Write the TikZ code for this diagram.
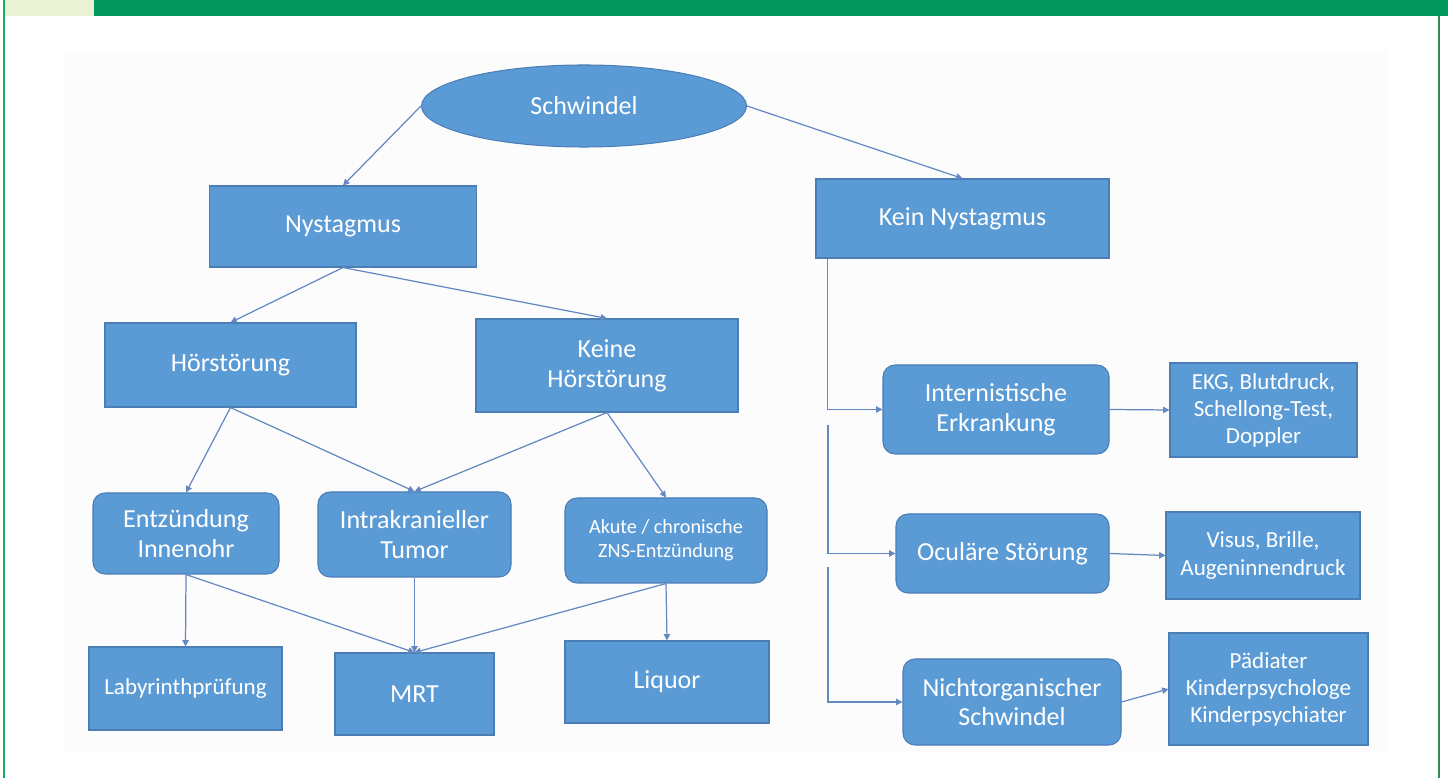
\documentclass[tikz,border=0pt]{standalone}
\usepackage{fontspec}
\setmainfont{Carlito}
\usepackage{tikz}
\usetikzlibrary{arrows.meta,positioning,shapes.geometric,calc}
\definecolor{kastenblau}{HTML}{5B9BD5}
\definecolor{randblau}{HTML}{4A7EB5}
\definecolor{pfeilblau}{HTML}{6489C2}
\definecolor{balken}{HTML}{00965E}
\definecolor{hellgruen}{HTML}{EBF2D4}
\definecolor{linie}{HTML}{17B060}
\definecolor{linierechts}{HTML}{2E8B57}

\begin{document}
\begin{tikzpicture}[>={Triangle[length=3.6pt,width=3.6pt]},
	knoten/.style={draw=randblau, line width=0.6pt, fill=kastenblau, text=white,
			align=center, inner sep=0pt, font=\fontsize{14.8}{17}\selectfont},
	rknoten/.style={knoten, rounded corners=0.24cm},
	klein/.style={font=\fontsize{13.1}{15.4}\selectfont},
	verb/.style={->, draw=pfeilblau, line width=0.7pt}]
			\useasboundingbox (0,0) rectangle (28.96,15.56);

			% --- Rahmen ---
			\fill[black!1]    (1.26, 0.52) rectangle (27.74, 14.56);
			\fill[balken]     (1.88, 15.24) rectangle (28.96, 15.56);
			\fill[hellgruen]  (0.10, 15.24) rectangle (1.88, 15.56);
			\draw[linie, line width=0.7pt] (0.08, 0) -- (0.08, 15.56);
			\draw[linierechts, line width=0.8pt] (28.78, 0) -- (28.78, 15.24);

			% --- Oberste Ebene ---
			\node[ellipse, draw=randblau, line width=0.6pt, fill=kastenblau, text=white,
				inner sep=0pt, minimum width=6.5cm, minimum height=1.64cm,
				font=\fontsize{14.8}{17}\selectfont] (schw) at (11.68, 13.44) {Schwindel};
			\node[knoten, minimum width=5.34cm, minimum height=1.62cm] (nyst)  at (6.86, 11.03) {Nystagmus};
			\node[knoten, minimum width=5.86cm, minimum height=1.58cm] (kein)  at (19.25, 11.19) {Kein Nystagmus};

			% --- Linker Zweig ---
			\node[knoten, minimum width=5.02cm, minimum height=1.68cm] (hoer)  at (4.61, 8.26) {Hörstörung};
			\node[knoten, minimum width=5.24cm, minimum height=1.86cm] (khoer) at (12.14, 8.25) {Keine\\Hörstörung};
			\node[rknoten, minimum width=3.72cm, minimum height=1.62cm] (entz) at (3.72, 4.89) {Entzündung\\Innenohr};
			\node[rknoten, minimum width=3.86cm, minimum height=1.70cm] (tumor) at (8.29, 4.87) {Intrakranieller\\Tumor};
			\node[rknoten, minimum width=4.04cm, minimum height=1.70cm,
				font=\fontsize{11.5}{13.7}\selectfont] (zns) at (13.32, 4.75) {Akute / chronische\\ZNS-Entzündung};
			\node[knoten, klein, minimum width=3.86cm, minimum height=1.66cm] (laby) at (3.71, 1.79) {Labyrinthprüfung};
			\node[knoten, minimum width=3.18cm, minimum height=1.64cm] (mrt)    at (8.29, 1.68) {MRT};
			\node[knoten, minimum width=4.08cm, minimum height=1.64cm] (liquor) at (13.34, 1.92) {Liquor};

			% --- Rechter Zweig ---
			\node[rknoten, minimum width=4.52cm, minimum height=1.78cm] (intern) at (19.92, 7.37) {Internistische\\Erkrankung};
			\node[knoten, klein, minimum width=3.74cm, minimum height=1.88cm] (ekg) at (25.27, 7.36) {EKG, Blutdruck,\\Schellong-Test,\\Doppler};
			\node[rknoten, minimum width=4.26cm, minimum height=1.58cm] (ocul) at (20.05, 4.49) {Oculäre Störung};
			\node[knoten, klein, minimum width=3.88cm, minimum height=1.74cm] (visus) at (25.26, 4.45) {Visus, Brille,\\Augeninnendruck};
			\node[rknoten, minimum width=4.36cm, minimum height=1.72cm] (nicht) at (20.24, 1.52) {Nichtorganischer\\Schwindel};
			\node[knoten, klein, minimum width=3.98cm, minimum height=2.24cm] (paed) at (25.37, 1.78) {Pädiater\\Kinderpsychologe\\Kinderpsychiater};

			% Stamm unter "Kein Nystagmus"
			\coordinate (t2) at (16.56, 7.06);
			\coordinate (t3) at (16.56, 4.22);

			% --- Verbindungen ---
			\draw[verb] (schw.west) -- (nyst.north);
			\draw[verb] (schw.east) -- (kein.north);
			\draw[verb] (nyst.south) -- (hoer.north);
			\draw[verb] (nyst.south) -- (khoer.north);
			\draw[verb] (hoer.south) -- (entz.north);
			\draw[verb] (hoer.south) -- (tumor.north);
			\draw[verb] (khoer.south) -- (tumor.north);
			\draw[verb] (khoer.south) -- (zns.north);
			\draw[verb] (entz.south) -- (laby.north);
			\draw[verb] (entz.south) -- (mrt.north);
			\draw[verb] (tumor.south) -- (mrt.north);
			\draw[verb] (zns.south) -- (mrt.north);
			\draw[verb] (zns.south) -- (liquor.north);

			\draw[verb] ($(kein.south west)+(0.24,0)$) |- (intern.west);
			\draw[verb] (t2) |- (ocul.west);
			\draw[verb] (t3) |- (nicht.west);
			\draw[verb] (intern.east) -- (ekg.west);
			\draw[verb] (ocul.east) -- (visus.west);
			\draw[verb] (nicht.east) -- (paed.west);
		\end{tikzpicture}
\end{document}
